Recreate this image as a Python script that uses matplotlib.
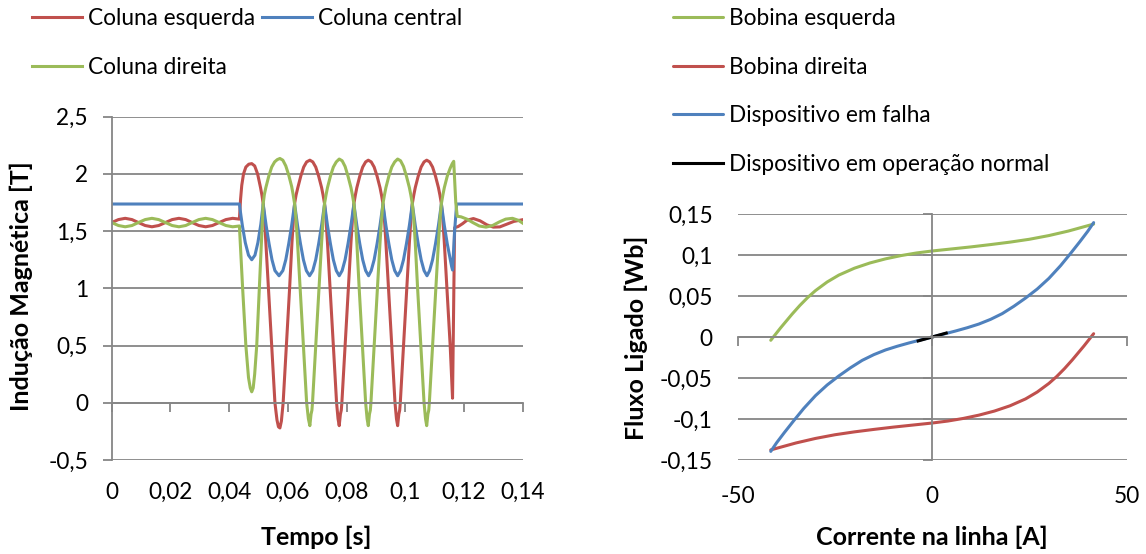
import matplotlib
matplotlib.use("Agg")
import matplotlib.pyplot as plt

# ---------------- data ----------------
# Left panel: magnetic induction [T] in the three core limbs versus time [s]
t_esq = [0, 0.0023, 0.0046, 0.0069, 0.0091, 0.0114, 0.0137, 0.016, 0.0183, 0.0206,
         0.0229, 0.0252, 0.0274, 0.0297, 0.032, 0.0343, 0.0366, 0.0389, 0.0412, 0.0435,
         0.0439, 0.0443, 0.0449, 0.0457, 0.0467, 0.0477,
         0.0487, 0.0497, 0.0507, 0.0512, 0.0516, 0.052, 0.0524, 0.0534, 0.0545, 0.0556,
         0.0563, 0.0568, 0.0573,
         0.0578, 0.0584, 0.0595, 0.0606, 0.0614, 0.0619, 0.0623, 0.0628, 0.0634, 0.0644,
         0.0654, 0.0664, 0.0675,
         0.0685, 0.0695, 0.0705, 0.0715, 0.072, 0.0725, 0.073, 0.0735, 0.0744, 0.0755,
         0.0766, 0.0771, 0.0775,
         0.0779, 0.0782, 0.0784, 0.0795, 0.0806, 0.0815, 0.082, 0.0825, 0.083, 0.0835,
         0.0845, 0.0855, 0.0865, 0.0874,
         0.0884, 0.0894, 0.0904, 0.0914, 0.0919, 0.0924, 0.0929, 0.0934, 0.0943, 0.0954,
         0.0965, 0.097, 0.0974,
         0.0978, 0.0981, 0.0983, 0.0994, 0.1005, 0.1014, 0.1019, 0.1024, 0.1029, 0.1034,
         0.1044, 0.1054, 0.1064, 0.1073,
         0.1083, 0.1093, 0.1103, 0.1113, 0.1118, 0.1123, 0.1128, 0.1133, 0.1142, 0.1153,
         0.1158, 0.1161, 0.1168,
         0.118, 0.1195, 0.121, 0.1232, 0.1255, 0.1278, 0.13, 0.1322, 0.1345, 0.137, 0.14]
b_esq = [1.575, 1.601, 1.612, 1.601, 1.575, 1.549, 1.538, 1.549, 1.575, 1.601,
         1.612, 1.601, 1.575, 1.549, 1.538, 1.549, 1.575, 1.601, 1.612, 1.605,
         1.78, 1.9, 2.0, 2.06, 2.085, 2.09,
         2.07, 2.0, 1.88, 1.81, 1.74, 1.62, 1.45, 1.0, 0.5, 0.0,
         -0.15, -0.21, -0.22,
         -0.16, 0.0, 0.5, 1.0, 1.4, 1.6, 1.74, 1.815, 1.88, 1.98,
         2.06, 2.105, 2.12,
         2.105, 2.06, 1.98, 1.88, 1.815, 1.74, 1.6, 1.4, 1.0, 0.5,
         0.0, -0.14, -0.2,
         -0.1, -0.065, 0.0, 0.5, 1.0, 1.4, 1.6, 1.74, 1.815, 1.88,
         1.98, 2.06, 2.105, 2.12,
         2.105, 2.06, 1.98, 1.88, 1.815, 1.74, 1.6, 1.4, 1.0, 0.5,
         0.0, -0.14, -0.2,
         -0.1, -0.065, 0.0, 0.5, 1.0, 1.4, 1.6, 1.74, 1.815, 1.88,
         1.98, 2.06, 2.105, 2.12,
         2.105, 2.06, 1.98, 1.88, 1.815, 1.74, 1.6, 1.4, 1.0, 0.5,
         0.22, 0.04, 1.53,
         1.54, 1.565, 1.595, 1.61, 1.59, 1.555, 1.535, 1.537, 1.56, 1.585, 1.60]

t_cen = [0, 0.0435,
         0.044, 0.0445, 0.0455, 0.0466, 0.0477, 0.0488, 0.0498, 0.0508, 0.0516,
         0.0526, 0.0536, 0.0546, 0.0556, 0.057, 0.0583, 0.0593, 0.0603, 0.0613, 0.0623,
         0.0633, 0.0643, 0.0653, 0.0663, 0.0674, 0.0685, 0.0695, 0.0705, 0.0715, 0.0725,
         0.0735, 0.0745, 0.0755, 0.0765, 0.0775, 0.0785, 0.0795, 0.0805, 0.0815, 0.0825,
         0.0835, 0.0845, 0.0855, 0.0865, 0.0875, 0.0884, 0.0894, 0.0904, 0.0914, 0.0924,
         0.0934, 0.0944, 0.0954, 0.0964, 0.0974, 0.0984, 0.0994, 0.1004, 0.1014, 0.1024,
         0.1034, 0.1044, 0.1054, 0.1064, 0.1074, 0.1083, 0.1093, 0.1103, 0.1113, 0.1123,
         0.1133, 0.1143, 0.1152, 0.1158, 0.1161, 0.1168, 0.1175, 0.14]
b_cen = [1.737, 1.737,
         1.64, 1.55, 1.40, 1.29, 1.25, 1.29, 1.40, 1.56, 1.737,
         1.55, 1.39, 1.25, 1.155, 1.11, 1.155, 1.25, 1.39, 1.55, 1.737,
         1.55, 1.39, 1.25, 1.155, 1.11, 1.155, 1.25, 1.39, 1.55, 1.737,
         1.55, 1.39, 1.25, 1.155, 1.11, 1.155, 1.25, 1.39, 1.55, 1.737,
         1.55, 1.39, 1.25, 1.155, 1.11, 1.155, 1.25, 1.39, 1.55, 1.737,
         1.55, 1.39, 1.25, 1.155, 1.11, 1.155, 1.25, 1.39, 1.55, 1.737,
         1.55, 1.39, 1.25, 1.155, 1.11, 1.155, 1.25, 1.39, 1.55, 1.737,
         1.55, 1.39, 1.27, 1.19, 1.16, 1.5, 1.737, 1.737]

t_dir = [0, 0.0023, 0.0046, 0.0069, 0.0091, 0.0114, 0.0137, 0.016, 0.0183, 0.0206,
         0.0229, 0.0252, 0.0274, 0.0297, 0.032, 0.0343, 0.0366, 0.0389, 0.0412, 0.0435,
         0.044, 0.0446, 0.0457, 0.0466, 0.0472, 0.0477, 0.0482, 0.0487, 0.0494, 0.0503,
         0.0511, 0.0514, 0.0516,
         0.052, 0.0525, 0.0535, 0.0545, 0.0555, 0.0564, 0.0573,
         0.0583, 0.0593, 0.0603, 0.0613, 0.0618, 0.0623, 0.0628, 0.0633, 0.0642, 0.0653,
         0.0664, 0.067, 0.0675,
         0.0679, 0.0682, 0.0684, 0.0695, 0.0706, 0.0715, 0.072, 0.0725, 0.073, 0.0735,
         0.0745, 0.0755, 0.0765, 0.0775,
         0.0785, 0.0795, 0.0805, 0.0815, 0.082, 0.0825, 0.083, 0.0835, 0.0843, 0.0854,
         0.0865, 0.087, 0.0874,
         0.0878, 0.0881, 0.0883, 0.0894, 0.0905, 0.0914, 0.0919, 0.0924, 0.0929, 0.0934,
         0.0944, 0.0954, 0.0964, 0.0974,
         0.0984, 0.0994, 0.1004, 0.1014, 0.1019, 0.1024, 0.1029, 0.1034, 0.1042, 0.1053,
         0.1064, 0.1069, 0.1073,
         0.1077, 0.108, 0.1082, 0.1093, 0.1104, 0.1113, 0.1118, 0.1123, 0.1128, 0.1133,
         0.1143, 0.1153, 0.116, 0.1165, 0.1172, 0.1177,
         0.119, 0.121, 0.123, 0.1252, 0.1275, 0.1298, 0.132, 0.1342, 0.1365, 0.1385, 0.14]
b_dir = [1.575, 1.549, 1.538, 1.549, 1.575, 1.601, 1.612, 1.601, 1.575, 1.549,
         1.538, 1.549, 1.575, 1.601, 1.612, 1.601, 1.575, 1.549, 1.538, 1.545,
         1.3, 1.0, 0.5, 0.22, 0.13, 0.096, 0.13, 0.25, 0.5, 1.0,
         1.45, 1.6, 1.74,
         1.82, 1.88, 1.98, 2.06, 2.105, 2.125, 2.135,
         2.12, 2.07, 1.99, 1.89, 1.82, 1.74, 1.6, 1.4, 1.0, 0.5,
         0.0, -0.14, -0.2,
         -0.1, -0.065, 0.0, 0.5, 1.0, 1.4, 1.6, 1.74, 1.815, 1.88,
         1.98, 2.06, 2.105, 2.13,
         2.115, 2.065, 1.98, 1.88, 1.815, 1.74, 1.6, 1.4, 1.0, 0.5,
         0.0, -0.14, -0.2,
         -0.1, -0.065, 0.0, 0.5, 1.0, 1.4, 1.6, 1.74, 1.815, 1.88,
         1.98, 2.06, 2.105, 2.13,
         2.115, 2.065, 1.98, 1.88, 1.815, 1.74, 1.6, 1.4, 1.0, 0.5,
         0.0, -0.14, -0.2,
         -0.1, -0.065, 0.0, 0.5, 1.0, 1.4, 1.6, 1.74, 1.815, 1.88,
         1.98, 2.05, 2.09, 2.11, 1.75, 1.63,
         1.625, 1.605, 1.575, 1.545, 1.535, 1.55, 1.58, 1.605, 1.612, 1.595, 1.57]

# Right panel: flux linkage [Wb] versus line current [A]
i_bob_esq = [-41.5, -39, -36, -34, -32, -30, -27, -24, -20, -16, -12, -8, -4, 0,
             5, 10, 15, 20, 25, 30, 35, 41.5]
phi_bob_esq = [-0.004, 0.011, 0.028, 0.0386, 0.0482, 0.0566, 0.0671, 0.0755, 0.0839,
               0.0903, 0.0953, 0.0993, 0.1025, 0.1049, 0.1074, 0.1099, 0.1127, 0.1157,
               0.1192, 0.1237, 0.1292, 0.1377]
i_bob_dir = [-41.5, -35, -30, -25, -20, -15, -10, -5, 0, 4, 8, 12, 16, 20, 24, 27,
             30, 32, 34, 36, 39, 41.5]
phi_bob_dir = [-0.1377, -0.1292, -0.1237, -0.1192, -0.1157, -0.1127, -0.1099, -0.1074,
               -0.1049, -0.1025, -0.0993, -0.0953, -0.0903, -0.0839, -0.0755, -0.0671,
               -0.0566, -0.0482, -0.0386, -0.028, -0.011, 0.004]
i_falha = [-41.5, -40, -38, -35.5, -33, -30, -27, -24, -21, -18, -15, -12, -9, -6, -3,
           0, 3, 6, 9, 12, 15, 18, 21, 24, 27, 30, 33, 35.5, 38, 40, 41.5]
phi_falha = [-0.1395, -0.129, -0.1165, -0.1015, -0.087, -0.0715, -0.0585, -0.0475,
             -0.0375, -0.0285, -0.0215, -0.0158, -0.0113, -0.0073, -0.0036, 0.0,
             0.0036, 0.0073, 0.0113, 0.0158, 0.0215, 0.0285, 0.0375, 0.0475, 0.0585,
             0.0715, 0.087, 0.1015, 0.1165, 0.129, 0.1395]
i_normal = [-3.6, 0, 3.6]
phi_normal = [-0.0048, 0.0, 0.0048]

# Axis ticks and labels (decimal comma)
t_ticks = [0, 0.02, 0.04, 0.06, 0.08, 0.10, 0.12, 0.14]
t_labels = ["0", "0,02", "0,04", "0,06", "0,08", "0,1", "0,12", "0,14"]
b_ticks = [-0.5, 0, 0.5, 1, 1.5, 2, 2.5]
b_labels = ["-0,5", "0", "0,5", "1", "1,5", "2", "2,5"]
i_ticks = [-50, 0, 50]
i_labels = ["-50", "0", "50"]
phi_ticks = [-0.15, -0.1, -0.05, 0, 0.05, 0.1, 0.15]
phi_labels = ["-0,15", "-0,1", "-0,05", "0", "0,05", "0,1", "0,15"]

# ---------------- style ----------------
plt.rcParams["font.family"] = ["Lato", "DejaVu Sans"]
FS = 16.3
FS_TITLE = 18
RED, BLUE, GREEN, BLACK = "#C0504D", "#4F81BD", "#9BBB59", "#000000"
GRID = "#868686"
LW = 2.2

W, H = 1146, 554
fig = plt.figure(figsize=(W / 100, H / 100), dpi=100)


def box(x0, y0, x1, y1):
    return [x0 / W, 1 - y1 / H, (x1 - x0) / W, (y1 - y0) / H]


ax1 = fig.add_axes(box(111.7, 116.7, 522.7, 460))
ax2 = fig.add_axes(box(737.7, 214, 1126.7, 460))

# ---------------- left panel ----------------
l_esq, = ax1.plot(t_esq, b_esq, color=RED, lw=LW, solid_joinstyle="round")
l_cen, = ax1.plot(t_cen, b_cen, color=BLUE, lw=LW, solid_joinstyle="round")
l_dir, = ax1.plot(t_dir, b_dir, color=GREEN, lw=LW, solid_joinstyle="round")

ax1.set_xlim(0, 0.14)
ax1.set_ylim(-0.5, 2.5)


def style_axes(ax, xticks, yticks, ylabels, xlabels, xcross, ypad, xpad):
    ax.set_axisbelow(True)
    ax.set_yticks(yticks)
    ax.set_xticks(xticks)
    ax.yaxis.grid(True, color=GRID, lw=1.3)
    for gl in ax.get_ygridlines():
        gl.set_clip_on(False)
    for s in ("top", "right"):
        ax.spines[s].set_visible(False)
    ax.spines["bottom"].set_position(("data", 0))
    ax.spines["left"].set_position(("data", xcross))
    for s in ("bottom", "left"):
        ax.spines[s].set_color(GRID)
        ax.spines[s].set_linewidth(1.3)
    ax.tick_params(axis="both", direction="out", length=6.5, width=1.3, color=GRID,
                   labelbottom=False, labelleft=False)
    sx = ax.secondary_xaxis(0.0)
    sx.set_xticks(xticks, labels=xlabels)
    sx.tick_params(length=0, pad=xpad, labelsize=FS)
    sx.spines["bottom"].set_visible(False)
    sy = ax.secondary_yaxis(0.0)
    sy.set_yticks(yticks, labels=ylabels)
    sy.tick_params(length=0, pad=ypad, labelsize=FS)
    sy.spines["left"].set_visible(False)


style_axes(ax1, t_ticks, b_ticks, b_labels, t_labels, 0.0, 17, 16)

# ---------------- right panel ----------------
l_be, = ax2.plot(i_bob_esq, phi_bob_esq, color=GREEN, lw=LW, solid_capstyle="round")
l_bd, = ax2.plot(i_bob_dir, phi_bob_dir, color=RED, lw=LW, solid_capstyle="round")
l_fa, = ax2.plot(i_falha, phi_falha, color=BLUE, lw=LW, solid_capstyle="round")
l_no, = ax2.plot(i_normal, phi_normal, color=BLACK, lw=LW)

ax2.set_xlim(-50, 50)
ax2.set_ylim(-0.15, 0.15)
style_axes(ax2, i_ticks, phi_ticks, phi_labels, i_labels, 0.0, 18, 19)

# ---------------- axis titles ----------------
fig.text(316 / W, 1 - 537 / H, "Tempo [s]", ha="center", va="center",
         fontsize=FS_TITLE, fontweight="bold")
fig.text(21 / W, 1 - 286 / H, "Indução Magnética [T]", ha="center", va="center",
         rotation=90, fontsize=FS_TITLE, fontweight="bold")
fig.text(932 / W, 1 - 537 / H, "Corrente na linha [A]", ha="center", va="center",
         fontsize=FS_TITLE, fontweight="bold")
fig.text(636 / W, 1 - 338 / H, "Fluxo Ligado [Wb]", ha="center", va="center",
         rotation=90, fontsize=FS_TITLE, fontweight="bold")

# ---------------- legends ----------------
leg_kw = dict(frameon=False, fontsize=FS, handlelength=2.2, handletextpad=0.27,
              labelspacing=1.22, borderpad=0, borderaxespad=0, loc="upper left")
fig.legend([l_esq, l_dir, l_cen], ["Coluna esquerda", "Coluna direita", "Coluna central"],
           ncol=2, columnspacing=0.3, bbox_to_anchor=(32 / W, 1 - 8 / H), **leg_kw)
fig.legend([l_be, l_bd, l_fa, l_no],
           ["Bobina esquerda", "Bobina direita", "Dispositivo em falha",
            "Dispositivo em operação normal"],
           ncol=1, bbox_to_anchor=(673 / W, 1 - 8 / H), **leg_kw)

fig.savefig("out.png", dpi=100)
